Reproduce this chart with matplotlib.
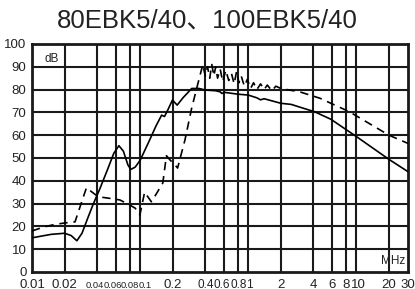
import numpy as np
import matplotlib
matplotlib.use('Agg')
import matplotlib.pyplot as plt

plt.rcParams['font.family'] = ['Liberation Sans', 'Noto Sans CJK SC', 'DejaVu Sans']

# solid curve (MHz, dB)
solid_f = [0.01, 0.015, 0.02, 0.023, 0.026, 0.029, 0.033, 0.037, 0.042, 0.05, 0.057, 0.0636,
           0.07, 0.077, 0.082, 0.09, 0.1, 0.12, 0.14, 0.158, 0.168, 0.18, 0.199, 0.22,
           0.25, 0.3, 0.35, 0.4, 0.5, 0.55, 0.57, 0.6, 0.8, 1.0, 1.2, 1.3, 1.4, 2.0,
           2.5, 3.0, 4.1, 5.8, 10.0, 20.0, 30.0]
solid_db = [15, 16.5, 17, 16, 13.7, 17, 24, 30, 36, 45, 52, 55.4,
            53, 47, 45, 46, 49, 57, 64, 68.8, 68.2, 71, 75.4, 73.2,
            76.5, 80.5, 80.5, 79.8, 79.5, 79, 78.3, 78.8, 78, 77.6, 76.4, 75.5, 76, 74,
            73.5, 72.3, 70.3, 67, 59.4, 49.4, 44]

# dashed curve (MHz, dB)
dash_f = [0.01, 0.013, 0.016, 0.02, 0.025, 0.028, 0.0319, 0.036, 0.041, 0.0524, 0.065,
          0.08, 0.09, 0.0995, 0.11, 0.127, 0.14, 0.162, 0.175, 0.19, 0.21, 0.222,
          0.26, 0.3, 0.355, 0.38, 0.40, 0.42, 0.44, 0.46, 0.48, 0.50, 0.52, 0.55,
          0.58, 0.62, 0.66, 0.70, 0.74, 0.78, 0.82, 0.86, 0.92, 0.98, 1.05, 1.12,
          1.2, 1.3, 1.4, 1.5, 1.65, 1.8, 2.0, 2.4, 3.0, 4.6, 8.6, 20.0, 30.0]
dash_db = [18, 19.8, 20.8, 21.5, 22, 29, 37, 35, 33, 32.3, 31.6,
           29.4, 28, 25, 35, 30.8, 34, 39, 51, 49, 47, 45.6,
           58, 72, 85.6, 91, 86, 90, 85, 91, 86, 90, 85, 89,
           83.5, 88.5, 84, 87, 82.5, 88, 83, 86, 81.5, 84.5, 80.5, 83,
           80, 82.5, 80, 82, 79.5, 81.5, 80.5, 79.8, 79, 76.2, 70.3, 60, 56.4]

xgrid = [0.02, 0.04, 0.06, 0.08, 0.1, 0.2, 0.4, 0.6, 0.8, 1, 2, 4, 6, 8, 10, 20]
xlabels_big = [(0.01, '0.01'), (0.02, '0.02'), (0.2, '0.2'), (2, '2'), (4, '4'),
               (6, '6'), (8, '8'), (10.4, '10'), (20, '20'), (30, '30')]
# crowded labels are laid out side by side, starting at these pixel columns
xlabels_small = ['0.04', '0.06', '0.08', '0.1']
small_left_px = [86, 103.5, 121, 138.5]
xlabels_mid = ['0.4', '0.6', '0.8', '1']
mid_left_px = [197, 213.5, 230, 246.5]

W, H = 415, 289
fig = plt.figure(figsize=(W / 100, H / 100), dpi=100)
ax = fig.add_axes([32 / W, 1 - 272 / H, 376 / W, 228 / H])
ax.set_xscale('log')
ax.set_xlim(0.01, 30)
ax.set_ylim(0, 100)

for f in xgrid:
    ax.axvline(f, color='#1a1a1a', lw=1.5, zorder=1)
for v in range(10, 100, 10):
    ax.axhline(v, color='#1a1a1a', lw=1.5, zorder=1)

ax.plot(solid_f, solid_db, color='black', lw=1.2, zorder=3)
ax.plot(dash_f, dash_db, color='black', lw=1.2, ls=(0, (5, 3.5)), zorder=3)

ax.set_xticks([])
ax.set_xticks([], minor=True)
ax.set_yticks(range(0, 101, 10))
ax.tick_params(axis='y', length=0, pad=4, labelsize=9.5, colors='#222222')
for s in ax.spines.values():
    s.set_linewidth(2)
    s.set_color('#1a1a1a')

trans = ax.get_xaxis_transform()
base_y = (272 - 287.5) / 228
for f, t in xlabels_big:
    ax.text(f, base_y, t, transform=trans, ha='center', va='baseline', fontsize=9.5, color='#222222')
for px, t in zip(mid_left_px, xlabels_mid):
    fig.text(px / W, 1 - 287.5 / H, t, ha='left', va='baseline', fontsize=8.5, color='#222222')
for px, t in zip(small_left_px, xlabels_small):
    fig.text(px / W, 1 - 287.5 / H, t, ha='left', va='baseline', fontsize=6.8, color='#222222')

ax.text(0.013, 96, 'dB', ha='left', va='top', fontsize=8.5, color='#222222')
ax.text(28, 2, 'MHz', ha='right', va='bottom', fontsize=8.5, color='#222222')

fig.text(207 / W, 1 - 21 / H, '80EBK5/40、100EBK5/40', ha='center', va='center',
         fontsize=18.5, color='#222222')

fig.savefig('out.png', dpi=100)
